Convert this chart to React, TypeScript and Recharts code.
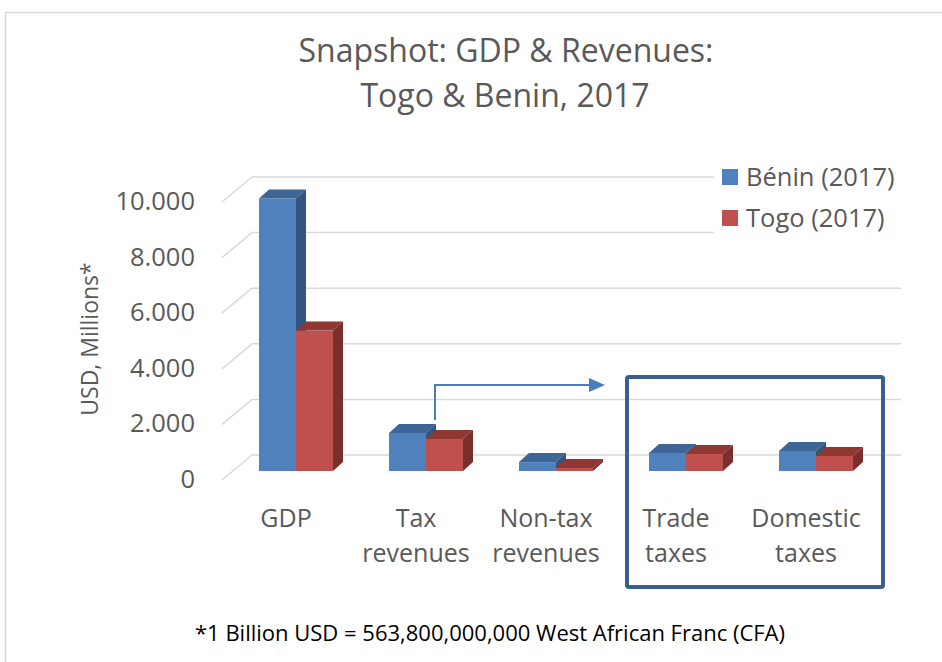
import React from "react";
import { BarChart, Bar, XAxis, YAxis, CartesianGrid } from "recharts";

const categories = ["GDP", "Tax revenues", "Non-tax revenues", "Trade taxes", "Domestic taxes"];
const categoryLines: string[][] = [["GDP"], ["Tax", "revenues"], ["Non-tax", "revenues"], ["Trade", "taxes"], ["Domestic", "taxes"]];
const beninValues = [9800, 1370, 320, 650, 720];
const togoValues = [5050, 1150, 110, 610, 540];
const yTicks = [0, 2000, 4000, 6000, 8000, 10000];
const seriesNames = ["Bénin (2017)", "Togo (2017)"];
const seriesColors = ["#4F81BD", "#C0504D"];

const data = categories.map((c, i) => ({ name: c, benin: beninValues[i], togo: togoValues[i] }));

const FONT = "'Open Sans', 'Noto Sans', sans-serif";
const DX = 10;
const DY = 9;

const make3D = (front: string, top: string, side: string) => (props: any) => {
  const { x, y, width, height } = props;
  if (width == null || height == null) return <g />;
  const w = width;
  const h = Math.max(height, 0);
  return (
    <g>
      <rect x={x} y={y} width={w} height={h} fill={front} />
      <polygon points={`${x},${y} ${x + DX},${y - DY} ${x + w + DX},${y - DY} ${x + w},${y}`} fill={top} />
      <polygon points={`${x + w},${y} ${x + w + DX},${y - DY} ${x + w + DX},${y + h - DY} ${x + w},${y + h}`} fill={side} />
    </g>
  );
};

const BeninShape = make3D("#4F81BD", "#3D6595", "#34557F");
const TogoShape = make3D("#C0504D", "#8F3733", "#7B2F2D");

const fmt = (v: number) => String(v).replace(/\B(?=(\d{3})+(?!\d))/g, ".");

const YTick = (props: any) => {
  const { y, payload } = props;
  return (
    <text x={195} y={y + 8} dy="0.35em" textAnchor="end" fontSize={25.5} fill="#595959" fontFamily={FONT}>
      {fmt(payload.value)}
    </text>
  );
};

const XTick = (props: any) => {
  const { x, y, payload, index } = props;
  const lines = categoryLines[index] || [payload.value];
  return (
    <g>
      {lines.map((l, i) => (
        <text key={i} x={x - 10} y={y + 48 + i * 35} textAnchor="middle" fontSize={25} fill="#595959" fontFamily={FONT}>
          {l}
        </text>
      ))}
    </g>
  );
};

const GridLine = (props: any) => {
  const { x1, x2, y1 } = props;
  return (
    <g key={`g-${y1}`}>
      <line x1={x1 - 9} y1={y1 + 9} x2={x1 + 21} y2={y1 - 16} stroke="#D9D9D9" strokeWidth={1.5} />
      <line x1={x1 + 21} y1={y1 - 16} x2={x2 + 20} y2={y1 - 16} stroke="#D9D9D9" strokeWidth={1.5} />
    </g>
  );
};

export default function App() {
  return (
    <div style={{ position: "absolute", left: 0, top: 0, width: 942, height: 662, background: "#fff", overflow: "hidden" }}>
      <svg width={942} height={662} style={{ position: "absolute", left: 0, top: 0 }}>
        <rect x={5.5} y={12.5} width={950} height={670} fill="#fff" stroke="#D9D9D9" strokeWidth={1.5} />
      </svg>
      <div style={{ position: "absolute", left: 0, top: 0 }}>
        <BarChart
          width={942}
          height={662}
          data={data}
          margin={{ top: 193, right: 61, left: 91, bottom: 131 }}
          barSize={37}
          barGap={0}
        >
          <CartesianGrid vertical={false} horizontal={GridLine as any} />
          <XAxis dataKey="name" axisLine={false} tickLine={false} height={60} tick={<XTick />} interval={0} />
          <YAxis
            domain={[0, 10000]}
            ticks={yTicks}
            axisLine={false}
            tickLine={false}
            width={140}
            tick={<YTick />}
            interval={0}
          />
          <Bar dataKey="benin" name={seriesNames[0]} fill={seriesColors[0]} shape={BeninShape} isAnimationActive={false} />
          <Bar dataKey="togo" name={seriesNames[1]} fill={seriesColors[1]} shape={TogoShape} isAnimationActive={false} />
        </BarChart>
      </div>
      <div style={{ position: "absolute", left: 714, top: 154, width: 200, background: "#fff", padding: "2px 0 2px 8px" }}>
        {seriesNames.map((n, i) => (
          <div key={n} style={{ display: "flex", alignItems: "center", height: 41 }}>
            <span style={{ display: "inline-block", width: 16, height: 16, background: seriesColors[i], marginRight: 8 }} />
            <span style={{ fontSize: 25.5, color: "#595959", fontFamily: FONT, lineHeight: "41px" }}>{n}</span>
          </div>
        ))}
      </div>
      <svg width={942} height={662} style={{ position: "absolute", left: 0, top: 0, pointerEvents: "none" }}>
        <text x={506} y={62} textAnchor="middle" fontSize={32} fill="#595959" fontFamily={FONT}>
          Snapshot: GDP &amp; Revenues:
        </text>
        <text x={505} y={107} textAnchor="middle" fontSize={32} fill="#595959" fontFamily={FONT}>
          Togo &amp; Benin, 2017
        </text>
        <text
          x={0}
          y={0}
          transform="translate(98,339) rotate(-90)"
          textAnchor="middle"
          fontSize={23}
          fill="#595959"
          fontFamily={FONT}
        >
          USD, Millions*
        </text>
        <polyline points="435,420 435,385 593,385" fill="none" stroke="#4A7EBB" strokeWidth={2} />
        <polygon points="589,378 605,385 589,392" fill="#4A7EBB" />
        <rect x={627} y={377} width={256} height={210} rx={2} fill="none" stroke="#3A5F8B" strokeWidth={4} />
        <text x={490} y={641} textAnchor="middle" fontSize={22} fill="#000" fontFamily={FONT}>
          *1 Billion USD = 563,800,000,000 West African Franc (CFA)
        </text>
      </svg>
    </div>
  );
}
